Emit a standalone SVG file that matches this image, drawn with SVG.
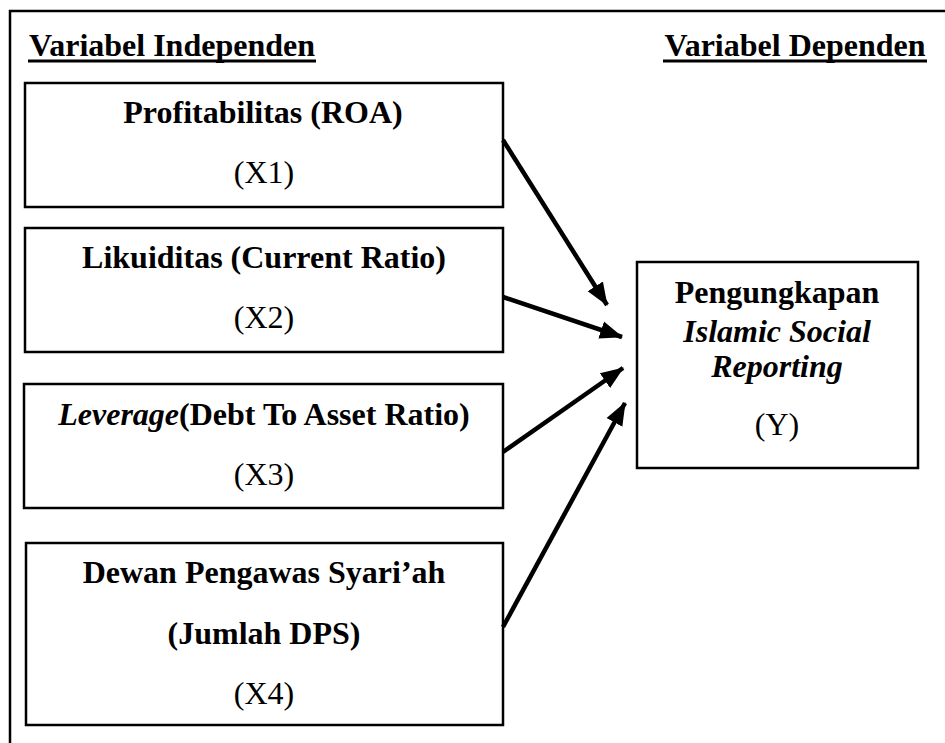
<svg xmlns="http://www.w3.org/2000/svg" width="945" height="743" viewBox="0 0 945 743">
<defs>
<style>
text{font-family:"Liberation Serif","Times New Roman",serif;font-size:32px;fill:#000;text-anchor:middle}
.b{font-weight:bold}
.i{font-style:italic}
.box{fill:#fff;stroke:#000;stroke-width:2.5}
.ul{stroke:#000;stroke-width:3}
.arr{stroke:#000;stroke-width:4.5;fill:none;marker-end:url(#ah)}
</style>
<marker id="ah" markerUnits="userSpaceOnUse" markerWidth="24" markerHeight="20" viewBox="0 0 24 20" refX="22" refY="10" orient="auto">
<path d="M0,1 L23,10 L0,19 Z" fill="#000"/>
</marker>
</defs>
<rect width="945" height="743" fill="#fff"/>
<rect x="10" y="11" width="960" height="760" fill="none" stroke="#000" stroke-width="2.5"/>
<g id="heading-left">
<text class="b" x="172" y="56">Variabel Independen</text>
<line class="ul" x1="28" y1="61" x2="316" y2="61"/>
</g>
<g id="heading-right">
<text class="b" x="795" y="56">Variabel Dependen</text>
<line class="ul" x1="663" y1="61" x2="927" y2="61"/>
</g>
<g id="x1">
<rect class="box" x="25" y="83" width="478" height="124"/>
<text class="b" x="263" y="123">Profitabilitas (ROA)</text>
<text x="264" y="183">(X1)</text>
</g>
<g id="x2">
<rect class="box" x="25" y="228" width="478" height="124"/>
<text class="b" x="264" y="268">Likuiditas (Current Ratio)</text>
<text x="264" y="328">(X2)</text>
</g>
<g id="x3">
<rect class="box" x="24" y="384" width="479" height="124"/>
<text x="264" y="425"><tspan class="b i">Leverage</tspan><tspan class="b">(Debt To Asset Ratio)</tspan></text>
<text x="264" y="485">(X3)</text>
</g>
<g id="x4">
<rect class="box" x="26" y="543" width="477" height="182"/>
<text class="b" x="264" y="583">Dewan Pengawas Syari’ah</text>
<text class="b" x="264" y="644">(Jumlah DPS)</text>
<text x="264" y="704">(X4)</text>
</g>
<g id="y">
<rect class="box" x="637" y="262" width="281" height="206"/>
<text class="b" x="777" y="303">Pengungkapan</text>
<text class="b i" x="777" y="342">Islamic Social</text>
<text class="b i" x="777" y="377">Reporting</text>
<text x="777" y="435">(Y)</text>
</g>
<g id="connectors">
<line class="arr" x1="503" y1="140" x2="607" y2="305"/>
<line class="arr" x1="503" y1="297" x2="622" y2="337"/>
<line class="arr" x1="503" y1="452" x2="623" y2="368"/>
<line class="arr" x1="503" y1="627" x2="625" y2="403"/>
</g>
</svg>
